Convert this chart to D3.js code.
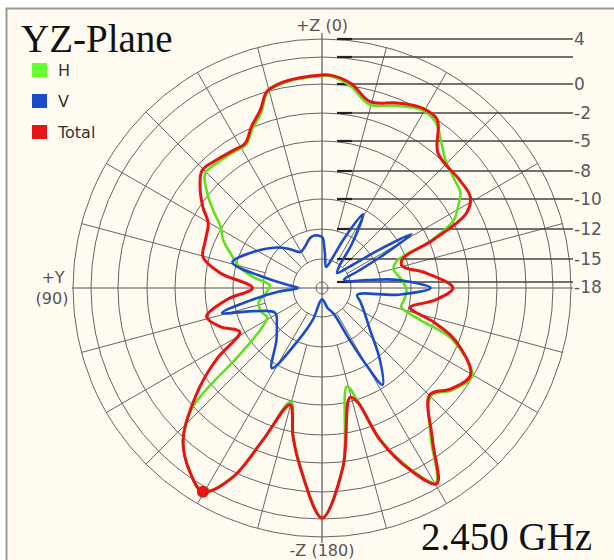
<html>
	<head>
		<script type="text/javascript" src="https://cdn.jsdelivr.net/npm/d3@7/dist/d3.min.js"></script>
		<style>
			body { margin: 0; background: #fff; }
			text { font-family: "DejaVu Sans", sans-serif; }
		</style>
	</head>
	<body>
		<script type="text/javascript">

			// ring values (dB) and which get a label on the right
			var ringValues = [-18, -15, -12, -10, -8, -5, -2, 0, 2, 4];
			var ringLabels = ['-18', '-15', '-12', '-10', '-8', '-5', '-2', '0', '', '4'];

			var seriesNames = ['H', 'V', 'Total'];

			// H (green)
			var hAngles = [0, 6, 11.6, 15.7, 19.2, 23.5, 28, 33, 39, 45.5, 50.4, 54.4, 59, 64, 70.8, 76, 81, 87, 90, 96, 103, 112, 118, 124, 129, 132.7,
				137.6, 144.5, 149.7, 154.8, 158.8, 164.7, 169, 173, 180, 186.7, 194.2, 197.4, 200.9, 205.8, 210.4, 216, 225.3, 232, 239.6,
				248.6, 252, 256.6, 262, 268.6, 276, 284.8, 290, 293.4, 297.4, 300.8, 304.5, 309.5, 316.1, 320, 325.6, 330.7, 337.9, 345.5, 352, 357.8];
			var hValues = [0.6, 0.5, 0.3, -0.1, -1.3, -2.1, -3.4, -3.4, -3.3, -3.2, -4.8, -6.3, -7.9, -8.5, -9.6, -10.3, -11.3, -12.7, -12.6, -12.2, -11.6, -11.6, -11.8, -11, -8.8, -1.9,
				0.15, 1.7, 2.5, 0.3, -3.4, -7.9, -4.6, -1.7, 1.9, -1.7, -9.1, -8.0, -3.5, -0.3, 1.6, -1.3, -4.3, -3.0, -2.1,
				-5.8, -9, -10.5, -10.4, -10.3, -10.6, -11.0, -10.6, -7.8, -4.8, -3.8, -2.75, -2.4, -1.8, -1.2, -0.2, 0.0, -0.5, -1.0, 0.0, 0.6];

			// V (blue)
			var vAngles = [0, 8, 14, 22, 31, 40, 48, 62, 74, 80, 86, 90, 95, 100, 104, 109, 118, 130, 139, 148, 156, 164, 180,
				196, 204, 208, 210, 212, 219, 229, 239, 250, 259, 265, 270, 276, 280, 286, 291, 295, 298, 301, 304, 308,
				315, 322, 326, 331, 336, 342, 349, 355, 359];
			var vValues = [-12.8, -12.6, -12.8, -13.4, -13.7, -12.8, -11.9, -10.8, -9.7, -12.3, -14.8, -15.7, -13.5, -11, -9, -11.2, -12.6, -12, -11.3, -9.6, -12.3, -14.6, -17.3,
				-16, -15.2, -12, -9.9, -8.2, -9.8, -11.7, -12.9, -13.8, -14.3, -10.8, -8.6, -10.8, -13.3, -15.5, -15.7, -14, -11.5, -8.9, -11.5, -14.5,
				-16, -15, -12.5, -10.3, -12.5, -15, -16, -14.5, -12.9];

			// Total (red)
			var tAngles = [0, 6, 11.6, 15.7, 19.2, 23.5, 28, 33, 39, 45.5, 50.4, 55.8, 60.3, 67.7, 75.4, 81.6, 90, 97, 104, 111, 118, 124, 129,
				137.6, 144.5, 149.7, 154.8, 158.8, 164.7, 169, 173, 180, 186.7, 194.4, 197.4, 200.9, 205.8, 210.4, 216, 225.3, 232, 239.6,
				248.6, 253, 257.5, 264, 270, 278, 285.5, 290, 293.4, 297.4, 301.6, 308, 319.3, 325.6, 330.7, 337.9, 345.5, 352, 357.8];
			var tValues = [0.67, 0.55, 0.37, 0, -1.1, -1.9, -3.2, -3.2, -3.0, -2.75, -3.8, -5.3, -6.6, -7.1, -7.4, -9, -11.3, -9.5, -7.8, -8.6, -9.7, -7.0, -3.9,
				0.15, 1.7, 2.56, 0.37, -3.3, -7.6, -4.5, -1.65, 1.93, -1.65, -8.3, -7.7, -3.3, -0.14, 1.7, -1.1, -4.5, -3.2, -2.3,
				-5.4, -8.0, -9.9, -8.2, -6.6, -8.8, -10.4, -10.2, -7.6, -3.3, -2.1, -2.0, -1.8, 0, 0.15, -0.3, -0.8, 0.2, 0.67];

			var width = 614,
				height = 560,
				cx = 322,
				cy = 288;

			var colors = {H: '#5fe11c', V: '#1a4cc8', Total: '#e51515'};

			// rings are not evenly spaced in dB, so piecewise scale
			var r = d3.scaleLinear()
				.domain(ringValues)
				.range([6, 29, 59, 89, 117, 147, 175, 204, 231, 249])
				.clamp(true);

			var R = r(4);

			function zip(a, v){
				return a.map(function(d, i){ return {a: d, v: v[i]}; });
			}

			var svg = d3.select('body').append('svg')
				.attr('width', width)
				.attr('height', height);

			// panel
			svg.append('rect')
				.attr('x', 6).attr('y', 8)
				.attr('width', width - 6).attr('height', height - 8)
				.style('fill', '#fffbf1');
			svg.append('path')
				.attr('d', 'M6.5,' + height + 'V8.5H' + width)
				.style('fill', 'none').style('stroke', '#9a9a9a').style('stroke-width', 2);

			var g = svg.append('g').attr('transform', 'translate(' + cx + ',' + cy + ')');

			// rings
			g.selectAll('circle.ring').data(ringValues).enter().append('circle')
				.attr('class', 'ring')
				.attr('r', function(d){ return r(d); })
				.style('fill', 'none')
				.style('stroke', '#666')
				.style('stroke-width', 1);

			// spokes every 15 degrees
			var spokes = d3.range(0, 360, 15).filter(function(a){ return a % 90 !== 0; });
			g.selectAll('line.spoke').data(spokes).enter().append('line')
				.attr('class', 'spoke')
				.each(function(a){
					var rad = a * Math.PI / 180,
						r0 = (a % 30 === 0 || a % 45 === 0) ? r(-15) : r(-12);
					d3.select(this)
						.attr('x1', -r0 * Math.sin(rad)).attr('y1', -r0 * Math.cos(rad))
						.attr('x2', -R * Math.sin(rad)).attr('y2', -R * Math.cos(rad));
				})
				.style('stroke', '#666')
				.style('stroke-width', 1);

			// main axes
			g.append('line')
				.attr('x1', 0).attr('y1', -R - 6).attr('x2', 0).attr('y2', R + 6)
				.style('stroke', '#555').style('stroke-width', 1.2);
			g.append('line')
				.attr('x1', -R - 1).attr('y1', 0).attr('x2', 573 - cx).attr('y2', 0)
				.style('stroke', '#555').style('stroke-width', 1.2);

			// level lines going out to the right with their labels
			var ticks = g.selectAll('g.tick').data(ringValues).enter().append('g')
				.attr('class', 'tick')
				.attr('transform', function(d){ return 'translate(0,' + (-r(d)) + ')'; });
			ticks.append('line')
				.attr('x1', 337 - cx).attr('x2', 573 - cx)
				.style('stroke', '#444').style('stroke-width', 1.3);
			ticks.append('line')
				.attr('x1', 337 - cx).attr('x2', 352 - cx)
				.style('stroke', '#222').style('stroke-width', 2.2);
			ticks.append('text')
				.attr('x', 574 - cx)
				.attr('y', function(d){ return d === -18 ? 5 : 0; })
				.attr('dy', '0.36em')
				.style('font-size', '17px')
				.style('fill', '#5a5a5a')
				.text(function(d, i){ return ringLabels[i]; });

			// curves
			var line = d3.lineRadial()
				.angle(function(d){ return -d.a * Math.PI / 180; })
				.radius(function(d){ return r(d.v); })
				.curve(d3.curveCatmullRomClosed.alpha(0.5));

			var series = [
				{name: 'H', data: zip(hAngles, hValues), w: 2.6},
				{name: 'V', data: zip(vAngles, vValues), w: 2.6},
				{name: 'Total', data: zip(tAngles, tValues), w: 3}
			];

			g.selectAll('path.trace').data(series).enter().append('path')
				.attr('class', 'trace')
				.attr('d', function(d){ return line(d.data); })
				.style('fill', 'none')
				.style('stroke', function(d){ return colors[d.name]; })
				.style('stroke-width', function(d){ return d.w; })
				.style('stroke-linejoin', 'round');

			// marker at the peak of total
			var peak = series[2].data.reduce(function(m, d){ return d.v > m.v ? d : m; });
			var pr = peak.a * Math.PI / 180;
			g.append('circle')
				.attr('cx', -r(peak.v) * Math.sin(pr))
				.attr('cy', -r(peak.v) * Math.cos(pr))
				.attr('r', 6)
				.style('fill', colors.Total);

			// direction labels
			svg.append('text').attr('x', cx).attr('y', 31).attr('text-anchor', 'middle')
				.style('font-size', '16px').style('fill', '#555').text('+Z (0)');
			svg.append('text').attr('x', cx).attr('y', 556).attr('text-anchor', 'middle')
				.style('font-size', '16px').style('fill', '#555').text('-Z (180)');
			svg.append('text').attr('x', 53).attr('y', 283).attr('text-anchor', 'middle')
				.style('font-size', '16px').style('fill', '#555').text('+Y');
			svg.append('text').attr('x', 52).attr('y', 304).attr('text-anchor', 'middle')
				.style('font-size', '16px').style('fill', '#555').text('(90)');

			// title and frequency
			svg.append('text').attr('x', 21).attr('y', 52)
				.style('font-family', '"Liberation Serif", serif').style('font-size', '39px').style('fill', '#111')
				.text('YZ-Plane');
			svg.append('text').attr('x', 421).attr('y', 550)
				.style('font-family', '"Liberation Serif", serif').style('font-size', '39px').style('fill', '#111')
				.text('2.450 GHz');

			// legend
			var legend = svg.selectAll('g.legend').data(seriesNames).enter().append('g')
				.attr('class', 'legend')
				.attr('transform', function(d, i){ return 'translate(32,' + (63 + i * 31) + ')'; });
			legend.append('rect')
				.attr('width', 15).attr('height', 14)
				.style('fill', function(d){ return d === 'H' ? '#66ff33' : colors[d]; });
			legend.append('text')
				.attr('x', 26).attr('y', 13)
				.style('font-size', '16px').style('fill', '#333')
				.text(function(d){ return d; });

		</script>
	</body>
</html>
